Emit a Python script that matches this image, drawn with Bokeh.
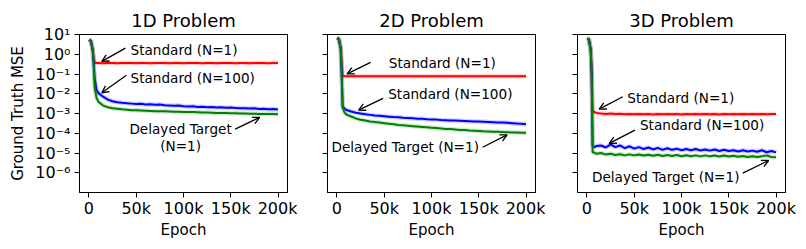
from bokeh.plotting import figure
from bokeh.layouts import row
from bokeh.models import (FixedTicker, CustomJSTickFormatter, Label, Arrow,
                          OpenHead, Range1d)
from bokeh.embed import file_html
from bokeh.resources import INLINE

# ---------------- data ----------------
epochs = [0, 2000, 4000, 5000, 6000, 8000, 10000, 15000, 20000, 25000, 30000,
          35000, 40000, 45000, 50000, 55000, 60000, 65000, 70000, 75000, 80000,
          85000, 90000, 95000, 100000, 105000, 110000, 115000, 120000, 125000,
          130000, 135000, 140000, 145000, 150000, 155000, 160000, 165000,
          170000, 175000, 180000, 185000, 190000, 195000, 200000]

# log10 of ground-truth MSE
log_mse_1d_std1 = [0.73, 0.68, 0.2, -0.2, -0.44, -0.44, -0.44, -0.45, -0.44, -0.44,
                   -0.45, -0.44, -0.44, -0.44, -0.45, -0.44, -0.44, -0.45, -0.44, -0.44,
                   -0.44, -0.45, -0.44, -0.44, -0.45, -0.44, -0.44, -0.44, -0.45, -0.44,
                   -0.44, -0.45, -0.44, -0.44, -0.44, -0.45, -0.44, -0.44, -0.45, -0.44,
                   -0.44, -0.44, -0.45, -0.44, -0.44]
log_mse_1d_std100 = [0.73, 0.68, 0.2, -0.4, -1.2, -1.8, -1.97, -2.15, -2.3, -2.38,
                     -2.43, -2.46, -2.48, -2.5, -2.52, -2.51, -2.54, -2.53, -2.56, -2.55,
                     -2.58, -2.59, -2.61, -2.6, -2.63, -2.64, -2.63, -2.67, -2.66, -2.68,
                     -2.67, -2.7, -2.68, -2.71, -2.7, -2.72, -2.74, -2.73, -2.75, -2.74,
                     -2.77, -2.76, -2.78, -2.77, -2.8]
log_mse_1d_delayed = [0.73, 0.68, 0.2, -0.6, -1.7, -2.2, -2.4, -2.6, -2.68, -2.73,
                      -2.76, -2.79, -2.81, -2.83, -2.84, -2.85, -2.86, -2.87, -2.88, -2.89,
                      -2.89, -2.9, -2.91, -2.91, -2.92, -2.93, -2.93, -2.94, -2.95, -2.95,
                      -2.96, -2.97, -2.97, -2.98, -2.99, -2.99, -3.0, -3.0, -3.01, -3.01,
                      -3.02, -3.02, -3.03, -3.03, -3.04]

log_mse_2d_std1 = [0.81, 0.77, 0.3, -0.5, -1.11, -1.11, -1.11, -1.12, -1.11, -1.11,
                   -1.11, -1.12, -1.11, -1.11, -1.12, -1.11, -1.11, -1.11, -1.12, -1.11,
                   -1.11, -1.12, -1.11, -1.11, -1.11, -1.12, -1.11, -1.11, -1.12, -1.11,
                   -1.11, -1.11, -1.12, -1.11, -1.11, -1.12, -1.11, -1.11, -1.11, -1.12,
                   -1.11, -1.11, -1.12, -1.11, -1.11]
log_mse_2d_std100 = [0.81, 0.77, 0.3, -1.0, -2.65, -2.75, -2.82, -2.9, -2.96, -3.0,
                     -3.04, -3.07, -3.1, -3.12, -3.14, -3.16, -3.18, -3.19, -3.22, -3.23,
                     -3.24, -3.26, -3.27, -3.29, -3.3, -3.31, -3.33, -3.34, -3.35, -3.36,
                     -3.37, -3.38, -3.39, -3.4, -3.41, -3.42, -3.43, -3.44, -3.45, -3.46,
                     -3.47, -3.49, -3.51, -3.52, -3.54]
log_mse_2d_delayed = [0.81, 0.77, 0.3, -1.0, -2.7, -2.95, -3.05, -3.15, -3.25, -3.32,
                      -3.36, -3.4, -3.43, -3.46, -3.49, -3.52, -3.55, -3.58, -3.6, -3.62,
                      -3.64, -3.66, -3.68, -3.7, -3.72, -3.74, -3.76, -3.78, -3.79, -3.81,
                      -3.83, -3.84, -3.86, -3.87, -3.88, -3.9, -3.91, -3.92, -3.93, -3.94,
                      -3.95, -3.96, -3.96, -3.97, -3.98]

log_mse_3d_std1 = [0.78, 0.76, 0.23, -1.0, -2.87, -2.93, -2.97, -3.0, -3.02, -3.0,
                   -3.03, -3.01, -3.04, -3.02, -3.04, -3.02, -3.04, -3.02, -3.05, -3.03,
                   -3.04, -3.02, -3.04, -3.03, -3.05, -3.02, -3.04, -3.03, -3.04, -3.02,
                   -3.04, -3.03, -3.05, -3.03, -3.04, -3.02, -3.04, -3.03, -3.04, -3.03,
                   -3.04, -3.02, -3.04, -3.03, -3.03]
log_mse_3d_std100 = [0.78, 0.76, 0.23, -1.0, -4.63, -4.7, -4.65, -4.62, -4.72, -4.56,
                     -4.7, -4.62, -4.75, -4.66, -4.78, -4.7, -4.8, -4.72, -4.82, -4.74,
                     -4.84, -4.76, -4.84, -4.78, -4.86, -4.8, -4.86, -4.8, -4.87, -4.82,
                     -4.88, -4.82, -4.9, -4.84, -4.9, -4.86, -4.92, -4.86, -4.92, -4.88,
                     -4.94, -4.86, -4.96, -4.9, -4.97]
log_mse_3d_delayed = [0.78, 0.76, 0.23, -1.0, -4.96, -4.98, -5.04, -5.0, -5.08, -5.04,
                      -5.1, -5.06, -5.12, -5.07, -5.12, -5.08, -5.13, -5.09, -5.14, -5.09,
                      -5.15, -5.1, -5.15, -5.1, -5.16, -5.11, -5.16, -5.12, -5.17, -5.12,
                      -5.17, -5.13, -5.18, -5.13, -5.18, -5.14, -5.19, -5.15, -5.2, -5.16,
                      -5.2, -5.17, -5.12, -5.2, -5.22]

titles = ["1D Problem", "2D Problem", "3D Problem"]
y_tick_exponents = [1, 0, -1, -2, -3, -4, -5, -6]
y_tick_labels = ["10¹", "10⁰", "10⁻¹", "10⁻²", "10⁻³", "10⁻⁴", "10⁻⁵", "10⁻⁶"]
x_ticks = [0, 50000, 100000, 150000, 200000]
x_tick_labels = ["0", "50k", "100k", "150k", "200k"]

FONT = "DejaVu Sans"
RED, BLUE, GREEN = "#ff0000", "#0000ff", "#008000"


def to_mse(logs):
    return [10 ** v for v in logs]


def make_panel(title, red, blue, green, lb, rb, first, labels, arrows):
    p = figure(frame_width=208, frame_height=158,
               x_range=Range1d(-10000, 210000), y_range=Range1d(1e-7, 10.0001),
               y_axis_type="log", output_backend="svg", toolbar_location=None,
               min_border_left=lb, min_border_right=rb, min_border_top=34,
               min_border_bottom=49, title=title)
    p.title.text_font = FONT
    p.title.text_font_size = "18px"
    p.title.text_font_style = "normal"
    p.title.text_color = "black"
    p.title.align = "center"
    p.title.standoff = 7
    p.grid.visible = False
    p.outline_line_color = "black"
    p.outline_line_alpha = 1
    p.outline_line_width = 1
    p.background_fill_color = "white"
    p.border_fill_color = "white"

    for ax in (p.xaxis[0], p.yaxis[0]):
        ax.major_tick_out = 5
        ax.major_tick_in = 0
        ax.minor_tick_out = 0
        ax.minor_tick_in = 0
        ax.major_label_text_font = FONT
        ax.major_label_text_font_size = "16px"
        ax.major_label_text_color = "black"
        ax.axis_line_color = "black"
        ax.major_tick_line_color = "black"
        ax.axis_label_text_font = FONT
        ax.axis_label_text_font_size = "15px"
        ax.axis_label_text_font_style = "normal"
        ax.axis_label_text_color = "black"

    p.xaxis.ticker = FixedTicker(ticks=x_ticks, minor_ticks=[])
    p.xaxis.formatter = CustomJSTickFormatter(
        args=dict(xt=x_ticks, xl=x_tick_labels),
        code="const i = xt.indexOf(Math.round(tick)); return i >= 0 ? xl[i] : '';")
    p.xaxis.axis_label = "Epoch"
    p.xaxis.major_label_standoff = 1
    p.xaxis.axis_label_standoff = 0

    p.yaxis.ticker = FixedTicker(ticks=[10.0 ** e for e in y_tick_exponents], minor_ticks=[])
    if first:
        p.yaxis.formatter = CustomJSTickFormatter(
            args=dict(exps=y_tick_exponents, yl=y_tick_labels),
            code="const e = Math.round(Math.log10(tick)); const i = exps.indexOf(e); return i >= 0 ? yl[i] : '';")
        p.yaxis.axis_label = "Ground Truth MSE"
        p.yaxis.major_label_standoff = 4
        p.yaxis.axis_label_standoff = 5
    else:
        p.yaxis.formatter = CustomJSTickFormatter(code="return '';")
        p.yaxis.major_label_standoff = 0

    for series, color in ((red, RED), (blue, BLUE), (green, GREEN)):
        ys = to_mse(series)
        p.line(epochs, ys, line_color=color, line_width=4.5, line_alpha=0.18)
        p.line(epochs, ys, line_color=color, line_width=2)

    for (txt, x, y, align) in labels:
        p.add_layout(Label(x=x, y=y, text=txt, text_font=FONT, text_font_size="13.6px",
                           text_align=align, text_baseline="middle", text_color="black"))
    for (x0, y0, x1, y1) in arrows:
        p.add_layout(Arrow(x_start=x0, y_start=y0, x_end=x1, y_end=y1,
                           line_color="black", line_width=1.3,
                           end=OpenHead(size=7, line_color="black", line_width=1.3)))
    return p


p1 = make_panel(titles[0], log_mse_1d_std1, log_mse_1d_std100, log_mse_1d_delayed,
                79, 10, True,
                [("Standard (N=1)", 44000, 10 ** 0.23, "left"),
                 ("Standard (N=100)", 44000, 10 ** -1.19, "left"),
                 ("Delayed Target", 96900, 10 ** -3.79, "center"),
                 ("(N=1)", 96900, 10 ** -4.63, "center")],
                [(38500, 10 ** 0.31, 13600, 10 ** -0.36),
                 (39600, 10 ** -1.06, 13600, 10 ** -1.95),
                 (154600, 10 ** -3.79, 180600, 10 ** -3.2)])
p2 = make_panel(titles[1], log_mse_2d_std1, log_mse_2d_std100, log_mse_2d_delayed,
                30, 10, False,
                [("Standard (N=1)", 54900, 10 ** -0.44, "left"),
                 ("Standard (N=100)", 54200, 10 ** -2.03, "left"),
                 ("Delayed Target (N=1)", -5800, 10 ** -4.71, "left")],
                [(35600, 10 ** -0.41, 10700, 10 ** -0.99),
                 (48800, 10 ** -2.23, 22800, 10 ** -2.83),
                 (154000, 10 ** -4.71, 180000, 10 ** -4.08)])
p3 = make_panel(titles[2], log_mse_3d_std1, log_mse_3d_std100, log_mse_3d_delayed,
                32, 13, False,
                [("Standard (N=1)", 42700, 10 ** -2.2, "left"),
                 ("Standard (N=100)", 56100, 10 ** -3.59, "left"),
                 ("Delayed Target (N=1)", 5300, 10 ** -6.22, "left")],
                [(37900, 10 ** -2.15, 12900, 10 ** -2.78),
                 (50800, 10 ** -3.84, 23500, 10 ** -4.51),
                 (164800, 10 ** -6.02, 192200, 10 ** -5.38)])

layout = row(p1, p2, p3, spacing=0)
open("out.html", "w").write(file_html(layout, INLINE))
